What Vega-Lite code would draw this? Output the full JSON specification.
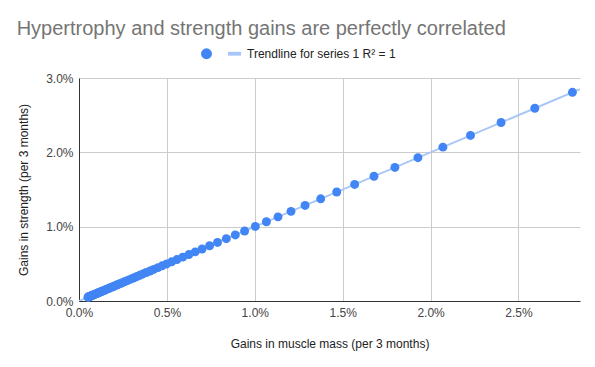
{
  "$schema": "https://vega.github.io/schema/vega-lite/v6.json",
  "autosize": "none",
  "width": 501,
  "height": 223,
  "padding": {"left": 79, "top": 78, "right": 15, "bottom": 66},
  "background": "white",
  "config": {
    "font": "Liberation Sans",
    "view": {"stroke": null},
    "axis": {
      "labelFont": "Liberation Sans",
      "titleFont": "Liberation Sans",
      "labelFontSize": 12,
      "titleFontSize": 12,
      "labelColor": "#444444",
      "titleColor": "#222222",
      "titleFontWeight": "normal",
      "gridColor": "#cccccc",
      "domainColor": "#333333",
      "ticks": false,
      "labelFlush": false
    }
  },
  "title": {
    "text": "Hypertrophy and strength gains are perfectly correlated",
    "anchor": "start",
    "frame": "bounds",
    "fontSize": 20,
    "fontWeight": "normal",
    "color": "#757575",
    "font": "Liberation Sans",
    "offset": 8,
    "dx": -1
  },
  "datasets": {
    "points": [
      {"x": 0.02807, "y": 0.02807},
      {"x": 0.02593, "y": 0.02593},
      {"x": 0.02401, "y": 0.02401},
      {"x": 0.02227, "y": 0.02227},
      {"x": 0.02070, "y": 0.02070},
      {"x": 0.01928, "y": 0.01928},
      {"x": 0.01797, "y": 0.01797},
      {"x": 0.01678, "y": 0.01678},
      {"x": 0.01568, "y": 0.01568},
      {"x": 0.01466, "y": 0.01466},
      {"x": 0.01375, "y": 0.01375},
      {"x": 0.01286, "y": 0.01286},
      {"x": 0.01206, "y": 0.01206},
      {"x": 0.01132, "y": 0.01132},
      {"x": 0.01066, "y": 0.01066},
      {"x": 0.01003, "y": 0.01003},
      {"x": 0.00942, "y": 0.00942},
      {"x": 0.00889, "y": 0.00889},
      {"x": 0.00838, "y": 0.00838},
      {"x": 0.00788, "y": 0.00788},
      {"x": 0.00743, "y": 0.00743},
      {"x": 0.00700, "y": 0.00700},
      {"x": 0.00661, "y": 0.00661},
      {"x": 0.00625, "y": 0.00625},
      {"x": 0.00590, "y": 0.00590},
      {"x": 0.00557, "y": 0.00557},
      {"x": 0.00527, "y": 0.00527},
      {"x": 0.00499, "y": 0.00499},
      {"x": 0.00473, "y": 0.00473},
      {"x": 0.00449, "y": 0.00449},
      {"x": 0.00425, "y": 0.00425},
      {"x": 0.00404, "y": 0.00404},
      {"x": 0.00383, "y": 0.00383},
      {"x": 0.00364, "y": 0.00364},
      {"x": 0.00346, "y": 0.00346},
      {"x": 0.00329, "y": 0.00329},
      {"x": 0.00313, "y": 0.00313},
      {"x": 0.00298, "y": 0.00298},
      {"x": 0.00284, "y": 0.00284},
      {"x": 0.00271, "y": 0.00271},
      {"x": 0.00258, "y": 0.00258},
      {"x": 0.00246, "y": 0.00246},
      {"x": 0.00235, "y": 0.00235},
      {"x": 0.00224, "y": 0.00224},
      {"x": 0.00214, "y": 0.00214},
      {"x": 0.00204, "y": 0.00204},
      {"x": 0.00195, "y": 0.00195},
      {"x": 0.00187, "y": 0.00187},
      {"x": 0.00179, "y": 0.00179},
      {"x": 0.00171, "y": 0.00171},
      {"x": 0.00163, "y": 0.00163},
      {"x": 0.00156, "y": 0.00156},
      {"x": 0.00150, "y": 0.00150},
      {"x": 0.00144, "y": 0.00144},
      {"x": 0.00138, "y": 0.00138},
      {"x": 0.00132, "y": 0.00132},
      {"x": 0.00127, "y": 0.00127},
      {"x": 0.00122, "y": 0.00122},
      {"x": 0.00117, "y": 0.00117},
      {"x": 0.00112, "y": 0.00112},
      {"x": 0.00108, "y": 0.00108},
      {"x": 0.00103, "y": 0.00103},
      {"x": 0.00099, "y": 0.00099},
      {"x": 0.00096, "y": 0.00096},
      {"x": 0.00092, "y": 0.00092},
      {"x": 0.00088, "y": 0.00088},
      {"x": 0.00085, "y": 0.00085},
      {"x": 0.00082, "y": 0.00082},
      {"x": 0.00079, "y": 0.00079},
      {"x": 0.00076, "y": 0.00076},
      {"x": 0.00073, "y": 0.00073},
      {"x": 0.00070, "y": 0.00070},
      {"x": 0.00068, "y": 0.00068},
      {"x": 0.00065, "y": 0.00065},
      {"x": 0.00063, "y": 0.00063},
      {"x": 0.00061, "y": 0.00061},
      {"x": 0.00059, "y": 0.00059},
      {"x": 0.00057, "y": 0.00057},
      {"x": 0.00055, "y": 0.00055},
      {"x": 0.00053, "y": 0.00053},
      {"x": 0.00051, "y": 0.00051}
    ],
    "trend": [
      {"x": 0, "y": 0},
      {"x": 0.0285, "y": 0.0285}
    ]
  },
  "layer": [
    {
      "data": {"name": "trend"},
      "mark": {"type": "line", "color": "#a8c6f7", "strokeWidth": 2, "clip": true},
      "encoding": {
        "x": {"field": "x", "type": "quantitative"},
        "y": {"field": "y", "type": "quantitative"}
      }
    },
    {
      "data": {"name": "points"},
      "mark": {"type": "point", "filled": true, "opacity": 1, "size": 80},
      "encoding": {
        "x": {
          "field": "x",
          "type": "quantitative",
          "scale": {"domain": [0, 0.0285], "nice": false, "zero": true},
          "axis": {
            "values": [0, 0.005, 0.01, 0.015, 0.02, 0.025],
            "format": ".1%",
            "title": "Gains in muscle mass (per 3 months)",
            "labelPadding": 6,
            "titlePadding": 20,
            "grid": true
          }
        },
        "y": {
          "field": "y",
          "type": "quantitative",
          "scale": {"domain": [0, 0.03], "nice": false},
          "axis": {
            "values": [0, 0.01, 0.02, 0.03],
            "format": ".1%",
            "title": "Gains in strength (per 3 months)",
            "labelPadding": 6,
            "titlePadding": 15,
            "grid": true
          }
        },
        "color": {
          "datum": "s1",
          "type": "nominal",
          "scale": {
            "domain": ["s1", "Trendline for series 1 R² = 1"],
            "range": ["#4285f4", "#a8c6f7"]
          },
          "legend": {
            "title": null,
            "orient": "none",
            "legendX": 121,
            "legendY": -31,
            "direction": "horizontal",
            "labelExpr": "datum.label == 's1' ? '' : datum.label",
            "labelFontSize": 12,
            "labelColor": "#222222",
            "labelFont": "Liberation Sans",
            "symbolSize": 120,
            "symbolOpacity": 1,
            "labelOffset": 6,
            "columnPadding": 8
          }
        },
        "shape": {
          "datum": "s1",
          "type": "nominal",
          "scale": {
            "domain": ["s1", "Trendline for series 1 R² = 1"],
            "range": ["circle", "M-1.2,-0.35H1.2V0.35H-1.2Z"]
          },
          "legend": null
        }
      }
    }
  ]
}
